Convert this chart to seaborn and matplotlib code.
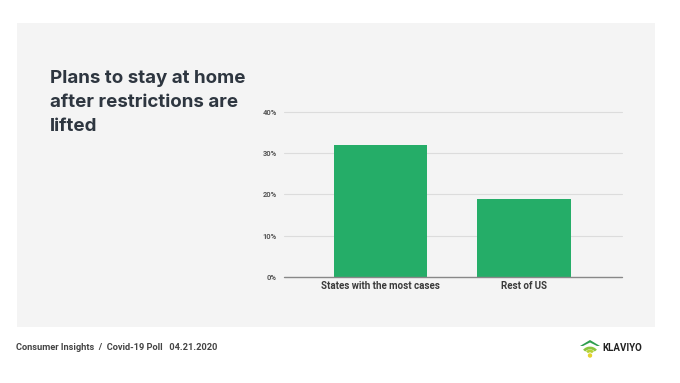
import matplotlib
matplotlib.use("Agg")
import matplotlib.pyplot as plt
import matplotlib.patches as mpatches
import seaborn as sns
import pandas as pd

categories = ["States with the most cases", "Rest of US"]
values = [0.32, 0.19]
yticks = [0, 0.1, 0.2, 0.3, 0.4]
ytick_labels = ["0%", "10%", "20%", "30%", "40%"]

sns.set_theme(style="white")
plt.rcParams['font.family'] = ['Roboto', 'DejaVu Sans']

fig = plt.figure(figsize=(6.8, 3.83), dpi=100)
fig.patch.set_facecolor("white")

W, H = 680, 383
def fx(px): return px / W
def fy(py): return 1 - py / H

# gray panel as background axes
bg = fig.add_axes([fx(17), fy(327), (655 - 17) / W, (327 - 23) / H], zorder=-5)
bg.set_facecolor("#f4f4f4")
bg.set_xticks([])
bg.set_yticks([])
for s in bg.spines.values():
    s.set_visible(False)

ax = fig.add_axes([fx(284), fy(277), (622 - 284) / W, (277 - 112) / H], zorder=1)
ax.set_facecolor("none")

df = pd.DataFrame({"category": categories, "value": values})
sns.barplot(data=df, x="category", y="value", hue="category",
            palette=["#25ad68", "#25ad68"], legend=False, width=0.65,
            ax=ax, zorder=3, saturation=1, linewidth=0)

ax.set_ylim(0, 0.4)
ax.set_xlim(-0.672, 1.683)
ax.set_yticks(yticks)
ax.set_yticklabels(ytick_labels, fontsize=5.4, fontweight="bold", color="#555555")
ax.tick_params(axis="y", length=0, pad=5)
ax.tick_params(axis="x", length=0, pad=3)
for lbl in ax.get_xticklabels():
    lbl.set_fontsize(7.0)
    lbl.set_fontweight("bold")
    lbl.set_color("#3a3a3a")
ax.set_xlabel("")
ax.set_ylabel("")
for s in ax.spines.values():
    s.set_visible(False)
for t in yticks[1:]:
    ax.axhline(t, color="#dcdcdc", linewidth=0.8, zorder=1, clip_on=False)
ax.axhline(0, color="#888888", linewidth=1.0, zorder=4, clip_on=False)

# title
fig.text(fx(50), fy(70), "Plans to stay at home\nafter restrictions are\nlifted",
         fontsize=13.5, fontweight="bold", color="#2e3640", va="top", ha="left",
         linespacing=1.52, family=["Inter", "DejaVu Sans"])

# footer
fig.text(fx(16), fy(348), "Consumer Insights  /  Covid-19 Poll   04.21.2020",
         fontsize=6.7, fontweight="bold", color="#444444", va="center", ha="left")

# logo
lax = fig.add_axes([fx(578), fy(358), (602 - 578) / W, (358 - 338) / H])
lax.set_xlim(0, 24)
lax.set_ylim(0, 20)
lax.axis("off")
lax.add_patch(mpatches.Polygon([(2, 12), (12, 18), (22, 12), (19, 12), (12, 15.5), (5, 12)],
                               closed=True, facecolor="#2e9e4f", edgecolor="none"))
lax.add_patch(mpatches.Arc((12, 4), 14, 12, theta1=30, theta2=150, color="#8cc63f", linewidth=2))
lax.add_patch(mpatches.Arc((12, 4), 7, 6, theta1=30, theta2=150, color="#b5d334", linewidth=2))
lax.add_patch(mpatches.Circle((12, 2.5), 1.5, color="#e4d22b"))
fig.text(fx(602), fy(348), "KLAVIYO", fontsize=7.0, fontweight="bold",
         color="#222222", va="center", ha="left")

fig.savefig("out.png", dpi=100, facecolor="white")
